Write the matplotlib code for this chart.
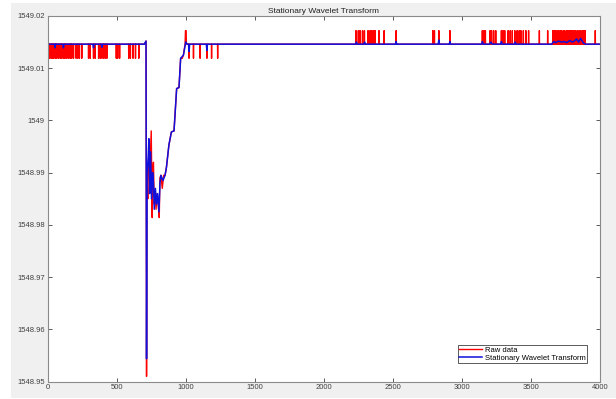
import matplotlib.pyplot as plt
from matplotlib.patches import Rectangle
from matplotlib.ticker import FuncFormatter

# niveis
base = 1549.0146
nivel_baixo = 1549.0119
nivel_alto = 1549.0172

# picos para baixo (dados brutos) antes e depois do vale
picos_baixo = [5, 12, 17, 29, 35, 41, 53, 60, 65, 77, 90, 96, 102, 114, 120, 126, 138,
               150, 162, 168, 174, 187, 206, 218, 230, 247, 296, 308, 332, 344, 369,
               381, 393, 405, 417, 429, 497, 507, 521, 587, 599, 618, 636, 660,
               1024, 1056, 1104, 1153, 1187, 1231]

# picos para cima (dados brutos) na parte direita
picos_alto = [2233, 2250, 2262, 2280, 2294, 2320, 2335, 2348, 2360, 2371, 2400, 2437, 2524,
              2789, 2801, 2833, 2913,
              3148, 3160, 3170, 3204, 3215, 3230, 3245, 3286, 3298, 3310, 3335, 3350, 3365,
              3383, 3400, 3415, 3427, 3445, 3463, 3483, 3561, 3621,
              3658, 3668, 3678, 3690, 3700, 3712, 3722, 3735, 3745, 3758, 3768, 3779,
              3790, 3800, 3812, 3822, 3835, 3848, 3860, 3872, 3883, 3893, 3966]

# vale (dados brutos)
vale_bruto_x = [700, 713, 716, 719, 725, 733, 740, 750, 754, 757, 760, 766, 772, 778, 785,
                792, 800, 808, 813, 820, 830, 840, 850, 860, 878, 896, 915, 934, 951, 963,
                975, 983, 995, 998, 1002, 1005]
vale_bruto_y = [base, 1549.0152, 1548.951, 1548.990, 1548.985, 1548.996, 1548.990, 1548.998,
                1548.988, 1548.9814, 1548.990, 1548.992, 1548.984, 1548.986, 1548.983,
                1548.986, 1548.984, 1548.9814, 1548.989, 1548.9895, 1548.987, 1548.9895,
                1548.9895, 1548.991, 1548.9953, 1548.9978, 1548.998, 1549.0061, 1549.0063,
                1549.0119, 1549.0119, 1549.0125, 1549.0146, 1549.0172, 1549.0172, base]

# transformada (SWT): pontos
swt_x = [0, 50, 53, 56, 110, 114, 118, 328, 332, 336, 389, 393, 397, 700, 712, 716, 720,
         728, 733, 738, 745, 752, 760, 766, 772, 780, 788, 796, 806, 813, 820, 835, 850,
         860, 878, 896, 915, 934, 951, 963, 983, 1000, 1010, 1020, 1024, 1028, 1149, 1153,
         1157, 2230, 2236, 2242, 2290, 2296, 2302, 2520, 2524, 2528, 2828, 2833, 2838,
         2908, 2913, 2918, 3143, 3148, 3155, 3200, 3210, 3220, 3280, 3286, 3292, 3380,
         3386, 3392, 3650, 3665, 3680, 3700, 3720, 3740, 3760, 3780, 3800, 3815, 3830,
         3845, 3860, 3880, 3895, 4000]
swt_y = [base, base, 1549.0139, base, base, 1549.0139, base, base, 1549.0139, base, base,
         1549.0140, base, base, 1549.0152, 1548.9544, 1548.990, 1548.993, 1548.9965,
         1548.986, 1548.994, 1548.985, 1548.990, 1548.988, 1548.983, 1548.987, 1548.984,
         1548.986, 1548.9825, 1548.988, 1548.9895, 1548.9885, 1548.9895, 1548.991,
         1548.9953, 1548.9978, 1548.998, 1549.0061, 1549.0063, 1549.0119, 1549.0125,
         1549.0150, base, base, 1549.0132, base, base, 1549.0134, base, base, 1549.0150,
         base, base, 1549.0150, base, base, 1549.0151, base, base, 1549.0154, base, base,
         1549.0151, base, base, 1549.0151, base, base, 1549.0150, base, base, 1549.0151,
         base, base, 1549.0150, base, base, 1549.0151, 1549.0149, 1549.0152, 1549.0150,
         1549.0151, 1549.0149, 1549.0153, 1549.0150, 1549.0152, 1549.0156, 1549.0150,
         1549.0157, 1549.0148, base, base]

# monta a serie bruta a partir dos picos e do vale
bruto_x = [0]
bruto_y = [base]
for p in picos_baixo:
    if p > 1005 and bruto_x[-1] < 700:
        bruto_x += vale_bruto_x
        bruto_y += vale_bruto_y
    bruto_x += [p - 1, p, p + 1]
    bruto_y += [base, nivel_baixo, base]
for p in picos_alto:
    bruto_x += [p - 1, p, p + 1]
    bruto_y += [base, nivel_alto, base]
bruto_x.append(4000)
bruto_y.append(base)

fig = plt.figure(figsize=(6.16, 3.99), dpi=100, facecolor='white')
fig.patches.append(Rectangle((11 / 616, 1 / 399), 605 / 616, 395 / 399,
                             transform=fig.transFigure, facecolor='#f0f0f0',
                             edgecolor='none', zorder=-1))
plt.rcParams['font.family'] = ['Liberation Sans', 'DejaVu Sans']

ax = fig.add_axes([0.0774, 0.0434, 0.8966, 0.9166])
ax.plot(bruto_x, bruto_y, color='#ff0000', linewidth=1.0, label='Raw data')
ax.plot(swt_x, swt_y, color='#1010dd', linewidth=1.1, label='Stationary Wavelet Transform')

ax.set_xlim(0, 4000)
ax.set_ylim(1548.95, 1549.02)
ax.set_xticks([0, 500, 1000, 1500, 2000, 2500, 3000, 3500, 4000])
ax.set_yticks([1548.95, 1548.96, 1548.97, 1548.98, 1548.99, 1549.0, 1549.01, 1549.02])
ax.yaxis.set_major_formatter(FuncFormatter(lambda v, pos: f"{v:.2f}".rstrip('0').rstrip('.')))
ax.tick_params(direction='in', length=3, width=0.6, labelsize=5.5, colors='#404040',
               top=True, right=True, pad=2)
for s in ax.spines.values():
    s.set_color('#8a8a8a')
    s.set_linewidth(0.8)

ax.set_title('Stationary Wavelet Transform', fontsize=6, color='#202020', pad=2)

leg = ax.legend(loc='lower right', bbox_to_anchor=(0.977, 0.05), fontsize=5.5,
                fancybox=False, edgecolor='#404040', framealpha=1, handlelength=3.0,
                borderpad=0.2, labelspacing=0.1, handletextpad=0.4, borderaxespad=0)
leg.get_frame().set_linewidth(0.6)

fig.savefig('out.png', dpi=100, facecolor=fig.get_facecolor())
